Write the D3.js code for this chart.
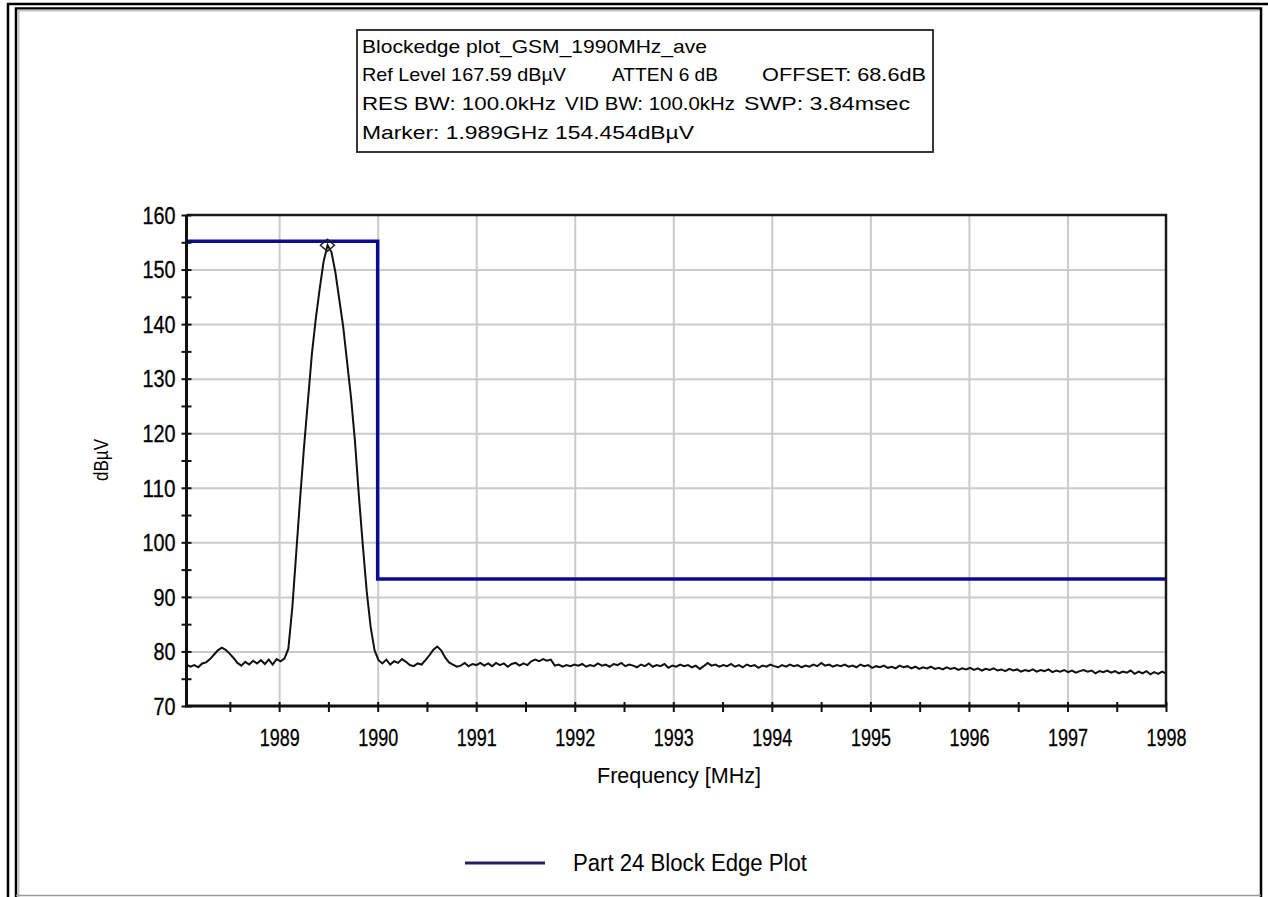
<!DOCTYPE html>
<html>
<head>
<meta charset="utf-8">
<script src="https://cdn.jsdelivr.net/npm/d3@7"></script>
<style>
  body { margin: 0; background: #fff; }
  svg { display: block; }
  text { font-family: "Liberation Sans", Arial, sans-serif; fill: #000; }
</style>
</head>
<body>
<svg id="chart" width="1268" height="897"></svg>
<script>
// ---- Instrument settings / annotation text ----
const headerLines = [
  ["Blockedge plot_GSM_1990MHz_ave"],
  ["Ref Level 167.59 dB\u00b5V", "ATTEN 6 dB", "OFFSET: 68.6dB"],
  ["RES BW: 100.0kHz", "VID BW: 100.0kHz", "SWP: 3.84msec"],
  ["Marker: 1.989GHz  154.454dB\u00b5V"]
];
const legendLabels = ["Part 24 Block Edge Plot"];
const xAxisTitle = "Frequency [MHz]";
const yAxisTitle = "dB\u00b5V";

// ---- Sweep (MHz) and measured trace (dBµV, average detector) ----
const sweepStartMHz = 1988.06;
const sweepStopMHz = 1998.0;
const traceLevels = [
  77.6, 77.2, 77.5, 77.1, 77.8, 78.0, 78.6, 79.4, 80.2, 80.7,
  80.3, 79.6, 78.8, 77.9, 77.4, 78.1, 77.6, 78.3, 77.8, 78.4,
  77.7, 78.5, 77.6, 78.6, 78.2, 78.7, 80.5, 88.0, 98.0, 108.0,
  117.5, 126.0, 134.5, 141.0, 146.5, 151.5, 154.454, 153.2, 149.5, 144.5,
  139.5, 133.0, 126.5, 118.5, 108.5, 99.5, 91.0, 84.5, 80.2, 78.4,
  77.8, 78.5, 77.6, 78.2, 77.9, 78.6, 78.1, 77.5, 77.3, 77.8,
  77.6, 78.4, 79.3, 80.3, 80.9, 80.2, 78.9, 78.0, 77.6, 77.2,
  77.4, 77.9, 77.3, 77.7, 77.5, 77.9, 77.4, 77.8, 77.3, 77.9,
  77.5, 77.8, 77.2, 77.7, 77.9, 77.4, 77.8, 77.5, 78.2, 78.5,
  78.2, 78.6, 78.3, 78.5, 77.4, 77.6, 77.2, 77.5, 77.3, 77.6,
  77.4, 77.7, 77.2, 77.5, 77.3, 77.8, 77.4, 77.6, 77.2, 77.7,
  77.5, 77.9, 77.3, 77.6, 77.4, 77.1, 77.6, 77.3, 77.8, 77.2,
  77.5, 77.3, 77.7, 77.0, 77.4, 77.2, 77.6, 77.3, 77.5, 77.1,
  77.4, 76.8, 77.3, 77.9, 77.4, 77.6, 77.2, 77.5, 77.3, 77.7,
  77.2, 77.5, 77.1, 77.6, 77.3, 77.5, 77.0, 77.4, 77.2, 77.6,
  77.3, 77.1, 77.5, 77.2, 77.6, 77.3, 77.5, 77.1, 77.4, 77.2,
  77.6, 77.3, 77.9, 77.4, 77.6, 77.2, 77.5, 77.3, 77.6, 77.2,
  77.4, 77.1, 77.6, 77.3, 77.5, 77.0, 77.3, 77.1, 77.4, 77.0,
  77.2, 76.9, 77.4, 77.1, 77.3, 76.9, 77.2, 76.8, 77.1, 76.9,
  77.2, 76.8, 77.0, 76.7, 77.1, 76.8, 77.0, 76.6, 76.9, 76.7,
  77.0, 76.6, 76.9, 76.5, 76.8, 76.6, 76.9, 76.5, 76.7, 76.4,
  76.8, 76.5, 76.7, 76.3, 76.6, 76.4, 76.7, 76.3, 76.6, 76.4,
  76.7, 76.2, 76.5, 76.3, 76.6, 76.2, 76.5, 76.1, 76.4, 76.6,
  76.3, 76.5, 76.0, 76.4, 76.2, 76.5, 76.1, 76.4, 76.0, 76.3,
  76.1, 76.5, 75.9, 76.3, 76.0, 76.4, 75.8, 76.2, 75.9, 76.3,
  76.0
];

// ---- Part 24 block-edge limit (MHz, dBµV) ----
const limitFreqs = [1988.06, 1990.0, 1990.0, 1998.0];
const limitLevels = [155.2, 155.2, 93.3, 93.3];

// ---- Peak marker ----
const markerFreq = [1989.49];
const markerLevel = [154.454];

// ---- Axis ticks ----
const xTickValues = [1989, 1990, 1991, 1992, 1993, 1994, 1995, 1996, 1997, 1998];
const xMinorTicks = [1988.5, 1989.5, 1990.5, 1991.5, 1992.5, 1993.5, 1994.5, 1995.5, 1996.5, 1997.5];
const yTickValues = [70, 80, 90, 100, 110, 120, 130, 140, 150, 160];
const yMinorTicks = [75, 85, 95, 105, 115, 125, 135, 145, 155];

// ---------------------------------------------------------------
const svg = d3.select("#chart");
const W = 1268, H = 897;

// window-style double frame
svg.append("rect").attr("width", W).attr("height", H).attr("fill", "#fff");
svg.append("line").attr("x1", 7).attr("x2", W).attr("y1", 4).attr("y2", 4)
  .attr("stroke", "#000").attr("stroke-width", 2.5);
svg.append("line").attr("x1", 8).attr("x2", 8).attr("y1", 3).attr("y2", H)
  .attr("stroke", "#000").attr("stroke-width", 2.5);
svg.append("path")
  .attr("d", `M16,${H} V8.5 H1261 V${H}`)
  .attr("fill", "none").attr("stroke", "#000").attr("stroke-width", 2.5);
svg.append("path")
  .attr("d", `M18.5,${H} V10.5 H1259`)
  .attr("fill", "none").attr("stroke", "#c4c4c4").attr("stroke-width", 2);
svg.append("line").attr("x1", 16).attr("x2", 1261).attr("y1", 895.5).attr("y2", 895.5)
  .attr("stroke", "#9a9a9a").attr("stroke-width", 1.5);

// scales
const x = d3.scaleLinear().domain([sweepStartMHz, sweepStopMHz]).range([186.5, 1166]);
const y = d3.scaleLinear().domain([70, 160]).range([706, 215]);
const [x0, x1] = x.range();
const [yb, yt] = y.range();

// grid
svg.append("g").attr("transform", `translate(0,${yb})`)
  .call(d3.axisBottom(x).tickValues(xTickValues.slice(0, -1)).tickSize(-(yb - yt)).tickFormat(""))
  .call(g => g.select(".domain").remove())
  .call(g => g.selectAll(".tick line").attr("stroke", "#cbcbcb").attr("stroke-width", 2));
svg.append("g").attr("transform", `translate(${x0},0)`)
  .call(d3.axisLeft(y).tickValues(yTickValues.slice(1, -1)).tickSize(-(x1 - x0)).tickFormat(""))
  .call(g => g.select(".domain").remove())
  .call(g => g.selectAll(".tick line").attr("stroke", "#cbcbcb").attr("stroke-width", 2));

// clip to plot area
svg.append("clipPath").attr("id", "plotClip")
  .append("rect").attr("x", x0).attr("y", yt - 2).attr("width", x1 - x0).attr("height", yb - yt + 2);

// limit line
const limitData = limitFreqs.map((f, i) => [f, limitLevels[i]]);
svg.append("path")
  .datum(limitData)
  .attr("clip-path", "url(#plotClip)")
  .attr("fill", "none")
  .attr("stroke", "#0c0c92")
  .attr("stroke-width", 3.5)
  .attr("stroke-linejoin", "miter")
  .attr("d", d3.line().x(d => x(d[0])).y(d => y(d[1])));

// measured trace
const nPts = traceLevels.length;
const stepMHz = (sweepStopMHz - sweepStartMHz) / (nPts - 1);
const traceData = traceLevels.map((v, i) => [sweepStartMHz + i * stepMHz, v]);
svg.append("path")
  .datum(traceData)
  .attr("clip-path", "url(#plotClip)")
  .attr("fill", "none")
  .attr("stroke", "#111")
  .attr("stroke-width", 2)
  .attr("stroke-linejoin", "miter")
  .attr("d", d3.line().x(d => x(d[0])).y(d => y(d[1])));

// marker diamond
svg.selectAll(".marker").data(markerFreq).join("path")
  .attr("class", "marker")
  .attr("transform", (d, i) => `translate(${x(d)},${y(markerLevel[i])})`)
  .attr("d", "M-7,0 L0,-6 L7,0 L0,6 Z")
  .attr("fill", "none").attr("stroke", "#222").attr("stroke-width", 1.5);

// frame: top and right
svg.append("path")
  .attr("d", `M${x0},${yt} H${x1} V${yb}`)
  .attr("fill", "none").attr("stroke", "#1a1a1a").attr("stroke-width", 2.5);

// x axis
const gx = svg.append("g").attr("transform", `translate(0,${yb})`)
  .call(d3.axisBottom(x).tickValues(xTickValues).tickFormat(d3.format("d")).tickSize(6));
gx.select(".domain").remove();
gx.selectAll(".tick line").attr("y1", -4).attr("y2", 6).attr("stroke", "#111").attr("stroke-width", 2);
gx.selectAll(".tick text")
  .attr("y", 40).attr("dy", null)
  .attr("font-size", 24).attr("fill", "#000")
  .attr("stroke", "#000").attr("stroke-width", 0.3)
  .attr("textLength", 40).attr("lengthAdjust", "spacingAndGlyphs");
const gxm = svg.append("g").attr("transform", `translate(0,${yb})`)
  .call(d3.axisBottom(x).tickValues(xMinorTicks).tickFormat("").tickSize(6));
gxm.select(".domain").remove();
gxm.selectAll(".tick line").attr("y1", -4).attr("y2", 6).attr("stroke", "#111").attr("stroke-width", 2);

// y axis
const gy = svg.append("g").attr("transform", `translate(${x0},0)`)
  .call(d3.axisLeft(y).tickValues(yTickValues).tickFormat(d3.format("d")).tickSize(5));
gy.select(".domain").remove();
gy.selectAll(".tick line").attr("x1", 5).attr("x2", -5).attr("stroke", "#111").attr("stroke-width", 2);
gy.selectAll(".tick text")
  .attr("x", -11).attr("dy", "0.36em")
  .attr("font-size", 23).attr("fill", "#000")
  .attr("stroke", "#000").attr("stroke-width", 0.3)
  .attr("textLength", d => String(d).length * 11)
  .attr("lengthAdjust", "spacingAndGlyphs");
const gym = svg.append("g").attr("transform", `translate(${x0},0)`)
  .call(d3.axisLeft(y).tickValues(yMinorTicks).tickFormat("").tickSize(5));
gym.select(".domain").remove();
gym.selectAll(".tick line").attr("x1", 5).attr("x2", -5).attr("stroke", "#111").attr("stroke-width", 2);

// axis lines
svg.append("path")
  .attr("d", `M${x0},${yt} V${yb} H${x1}`)
  .attr("fill", "none").attr("stroke", "#111").attr("stroke-width", 3);

// axis titles
svg.append("text")
  .attr("x", 679).attr("y", 783)
  .attr("text-anchor", "middle").attr("font-size", 22)
  .attr("textLength", 164).attr("lengthAdjust", "spacingAndGlyphs")
  .text(xAxisTitle);
svg.append("text")
  .attr("transform", `translate(108,460) rotate(-90)`)
  .attr("text-anchor", "middle").attr("font-size", 21)
  .attr("textLength", 42).attr("lengthAdjust", "spacingAndGlyphs")
  .text(yAxisTitle);

// settings box
const box = { x: 357, y: 30, w: 576, h: 122 };
svg.append("rect")
  .attr("x", box.x).attr("y", box.y).attr("width", box.w).attr("height", box.h)
  .attr("fill", "#fff").attr("stroke", "#222").attr("stroke-width", 1.8);
const segLayout = [
  [[362, 345]],
  [[362, 204], [612, 106], [762, 164]],
  [[362, 194], [565, 170], [744, 166]],
  [[362, 332]]
];
const baselines = [53, 81, 110, 139];
headerLines.forEach((segs, li) => {
  segs.forEach((s, si) => {
    const [sx, sw] = segLayout[li][si];
    svg.append("text")
      .attr("x", sx).attr("y", baselines[li])
      .attr("font-size", 19)
      .attr("textLength", sw).attr("lengthAdjust", "spacingAndGlyphs")
      .text(s);
  });
});

// legend
const lg = svg.append("g").attr("transform", "translate(465,863)");
legendLabels.forEach((lab, i) => {
  lg.append("line").attr("x1", 0).attr("x2", 80).attr("y1", 0).attr("y2", 0)
    .attr("stroke", "#22225e").attr("stroke-width", 3);
  lg.append("text").attr("x", 108).attr("y", 8)
    .attr("font-size", 23)
    .attr("textLength", 234).attr("lengthAdjust", "spacingAndGlyphs")
    .text(lab);
});
</script>
</body>
</html>
